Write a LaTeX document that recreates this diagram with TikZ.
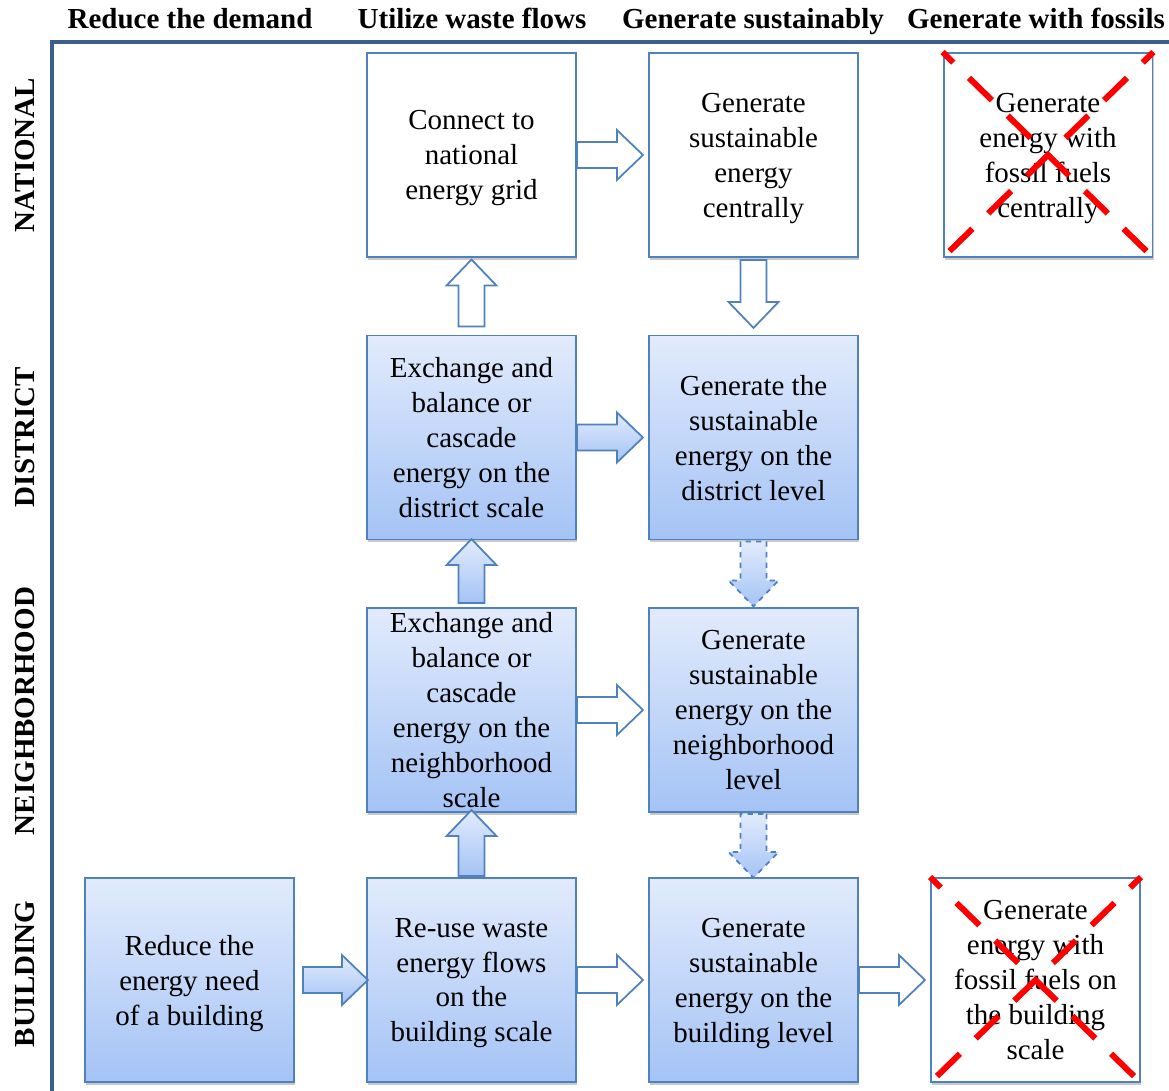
\documentclass[tikz,border=0pt]{standalone}
\usepackage{fontspec}
\setmainfont{Liberation Serif}
\usetikzlibrary{calc,shadows}
\definecolor{axisblue}{RGB}{59,94,140}
\definecolor{boxline}{RGB}{79,129,189}
\definecolor{shadetop}{RGB}{226,235,252}
\definecolor{shadebot}{RGB}{164,195,245}

% block arrow: style, start, angle, length (in px units)
\newcommand{\blockarrow}[4][]{%
  \draw[arrowline,#1,shift={(#2)},rotate=#3] (0,-13) -- ({#4-26},-13) -- ({#4-26},-25) -- (#4,0)
    -- ({#4-26},25) -- ({#4-26},13) -- (0,13) -- cycle;}

\begin{document}
\begin{tikzpicture}[x=0.02cm,y=-0.02cm,
    box/.style={draw=boxline,line width=1.1pt,minimum width=4.18cm,minimum height=4.08cm,inner sep=0pt,
      align=center,font=\fontsize{16.5}{19.9}\selectfont,text depth=-0.07cm,
      drop shadow={shadow xshift=0.6pt,shadow yshift=-1.6pt,opacity=0.3,fill=black!70}},
    plainbox/.style={box,fill=white},
    shadebox/.style={box,top color=shadetop,bottom color=shadebot},
    head/.style={font=\fontsize{16.5}{19.9}\selectfont\bfseries},
    level/.style={head,rotate=90},
    arrowline/.style={draw=boxline,line width=1pt,line join=miter},
    whitearrow/.style={fill=white},
    bluearrow/.style={top color=shadetop,bottom color=shadebot},
    crossline/.style={draw=red,line width=0.12cm,dash pattern=on 0.64cm off 0.44cm,dash phase=0.34cm}]
  \useasboundingbox (0,0) rectangle (1169,1091);

  \draw[axisblue,line width=0.08cm] (1169,42) -- (52,42) -- (52,1091);

  \node[head,anchor=base] (h1) at (190,29) {Reduce the demand};
  \node[head,anchor=base] (h2) at (472,29) {Utilize waste flows};
  \node[head,anchor=base] (h3) at (753,29) {Generate sustainably};
  \node[head,anchor=base] (h4) at (1036,29) {Generate with fossils};

  \node[level] (l1) at (25,155) {NATIONAL};
  \node[level] (l2) at (25,437) {DISTRICT};
  \node[level] (l3) at (25,711) {NEIGHBORHOOD};
  \node[level] (l4) at (25,974) {BUILDING};

  \node[plainbox] (n2) at (471.5,155) {Connect to\\national\\energy grid};
  \node[plainbox] (n3) at (753.5,155) {Generate\\sustainable\\energy\\centrally};
  \node[plainbox] (n4) at (1048,155) {Generate\\energy with\\fossil fuels\\centrally};

  \node[shadebox] (d2) at (471.5,437.5) {Exchange and\\balance or\\cascade\\energy on the\\district scale};
  \node[shadebox] (d3) at (753.5,437.5) {Generate the\\sustainable\\energy on the\\district level};

  \node[shadebox] (g2) at (471.5,710) {Exchange and\\balance or\\cascade\\energy on the\\neighborhood\\scale};
  \node[shadebox] (g3) at (753.5,710) {Generate\\sustainable\\energy on the\\neighborhood\\level};

  \node[shadebox] (b1) at (189.5,980) {Reduce the\\energy need\\of a building};
  \node[shadebox] (b2) at (471.5,980) {Re-use waste\\energy flows\\on the\\building scale};
  \node[shadebox] (b3) at (753.5,980) {Generate\\sustainable\\energy on the\\building level};
  \node[plainbox] (b4) at (1035.5,980) {Generate\\energy with\\fossil fuels on\\the building\\scale};

  % national
  \blockarrow[whitearrow]{n2.east}{0}{66}
  \blockarrow[whitearrow]{$(d2.north)+(0,-8)$}{90}{67}
  \blockarrow[whitearrow]{$(n3.south)+(0,2)$}{-90}{68}
  % district
  \blockarrow[bluearrow]{d2.east}{0}{66}
  \blockarrow[bluearrow]{$(g2.north)+(0,-4)$}{90}{64}
  \blockarrow[bluearrow,dashed]{$(d3.south)+(0,1)$}{-90}{65}
  % neighborhood
  \blockarrow[whitearrow]{g2.east}{0}{66}
  \blockarrow[bluearrow]{$(b2.north)+(0,-1)$}{90}{66}
  \blockarrow[bluearrow,dashed]{$(g3.south)+(0,1)$}{-90}{64}
  % building
  \blockarrow[bluearrow]{$(b1.east)+(8,0)$}{0}{65}
  \blockarrow[whitearrow]{b2.east}{0}{66}
  \blockarrow[whitearrow]{b3.east}{0}{66}

  \draw[crossline] (n4.north west) -- (n4.south east);
  \draw[crossline] (n4.north east) -- (n4.south west);
  \draw[crossline] (b4.north west) -- (b4.south east);
  \draw[crossline] (b4.north east) -- (b4.south west);
\end{tikzpicture}
\end{document}
